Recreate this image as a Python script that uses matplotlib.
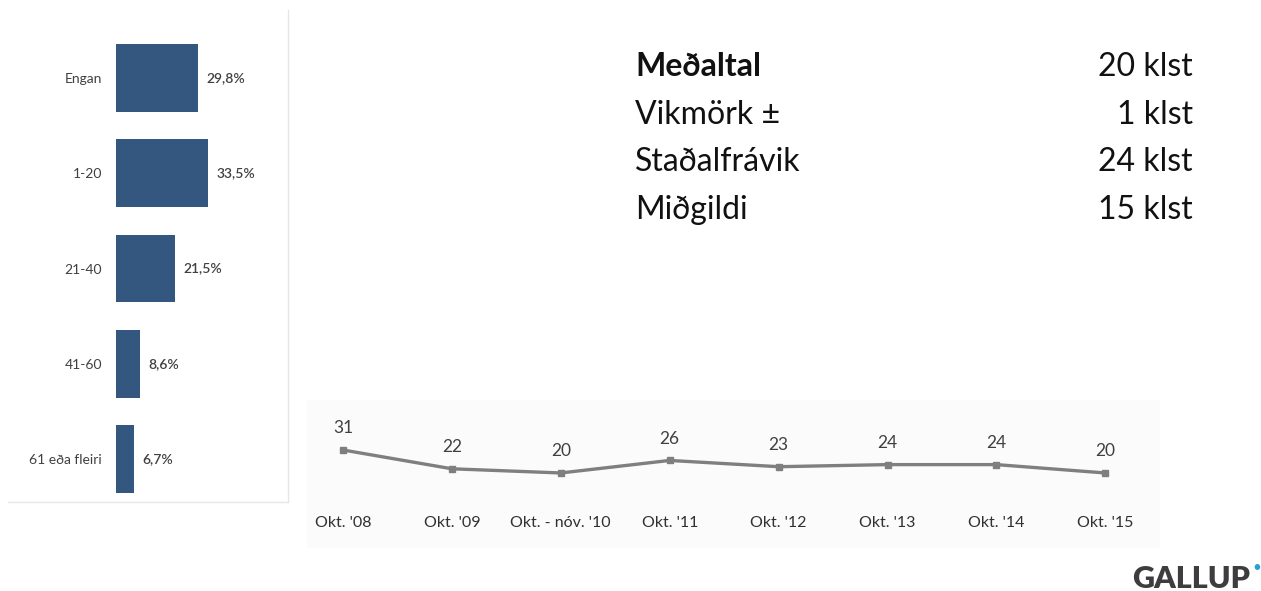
import matplotlib.pyplot as plt
from matplotlib.patches import Rectangle
from matplotlib.lines import Line2D

# bar panel: hours per week
categories = ["Engan", "1-20", "21-40", "41-60", "61 eða fleiri"]
shares = [29.8, 33.5, 21.5, 8.6, 6.7]

# trend panel: average hours
periods = ["Okt. '08", "Okt. '09", "Okt. - nóv. '10", "Okt. '11",
           "Okt. '12", "Okt. '13", "Okt. '14", "Okt. '15"]
averages = [31, 22, 20, 26, 23, 24, 24, 20]

# summary stats
stat_names = ["Meðaltal", "Vikmörk ±", "Staðalfrávik", "Miðgildi"]
stat_values = ["20 klst", "1 klst", "24 klst", "15 klst"]

W, H = 1261, 591
BAR_COLOR = "#34577f"
TEXT = "#404040"
plt.rcParams['font.family'] = ['Lato', 'DejaVu Sans']


def box(left, top, right, bottom):
    return [left / W, 1 - bottom / H, (right - left) / W, (bottom - top) / H]


def pt(x, y):
    return x / W, 1 - y / H


fig = plt.figure(figsize=(W / 100, H / 100), dpi=100)

# thin frame around bar panel
fig.add_artist(Line2D([pt(288, 0)[0]] * 2, [pt(0, 10)[1], pt(0, 502)[1]],
                      color="#e6e6e6", lw=1))
fig.add_artist(Line2D([pt(8, 0)[0], pt(288, 0)[0]], [pt(0, 502)[1]] * 2,
                      color="#e6e6e6", lw=1))

# bar chart
ax = fig.add_axes(box(116, 30, 116 + 2.75 * 40, 507))
ypos = list(range(len(categories)))
ax.barh(ypos, shares, height=0.71, color=BAR_COLOR)
ax.set_xlim(0, 40)
ax.set_ylim(4.5, -0.5)
ax.set_yticks(ypos)
ax.set_yticklabels(categories, fontsize=10, color=TEXT)
ax.tick_params(axis="y", length=0, pad=10)
ax.set_xticks([])
for s in ax.spines.values():
    s.set_visible(False)
for y, v in zip(ypos, shares):
    ax.text(v + 3, y, f"{v:.1f}%".replace(".", ","), va="center", ha="left",
            fontsize=10, color=TEXT, fontweight="semibold")
ax.patch.set_alpha(0)

# faint background behind trend chart
fig.add_artist(Rectangle(pt(307, 548), (1160 - 307) / W, (548 - 400) / H,
                         transform=fig.transFigure, color="#fbfbfb", lw=0,
                         zorder=0))

# trend line
step = 108.9
lx = fig.add_axes(box(343 - 0.3 * step, 403, 343 + 7.3 * step, 502))
xs = list(range(len(periods)))
lx.plot(xs, averages, color="#7f7f7f", lw=2.4, marker="s", markersize=5)
lx.set_xlim(-0.3, 7.3)
lx.set_ylim(6.1, 53.5)
lx.set_xticks(xs)
lx.set_xticklabels(periods, fontsize=11.5, color="#303030")
lx.tick_params(axis="x", length=0, pad=10)
lx.set_yticks([])
for s in lx.spines.values():
    s.set_visible(False)
lx.patch.set_alpha(0)
for x, v in zip(xs, averages):
    lx.annotate(str(v), (x, v), xytext=(0, 10), textcoords="offset points",
                ha="center", va="bottom", fontsize=12.5, color=TEXT)

# summary block
row_y = [67, 115, 162, 210]
for name, val, y in zip(stat_names, stat_values, row_y):
    x0, y0 = pt(635, y)
    fig.text(x0, y0, name, fontsize=23, va="center", ha="left", color="#111111",
             fontweight="bold" if name == "Meðaltal" else "normal")
    x1, _ = pt(1193, y)
    fig.text(x1, y0, val, fontsize=23, va="center", ha="right", color="#111111")

# logo
gx, gy = pt(1250, 579)
fig.text(gx, gy, "GALLUP", fontsize=22, fontweight="heavy", color="#3d3d3d",
         ha="right", va="center")
dx, dy = pt(1257, 568)
fig.text(dx, dy, "•", fontsize=11, color="#2a9fd6", ha="center", va="center")

fig.savefig("out.png", dpi=100)
